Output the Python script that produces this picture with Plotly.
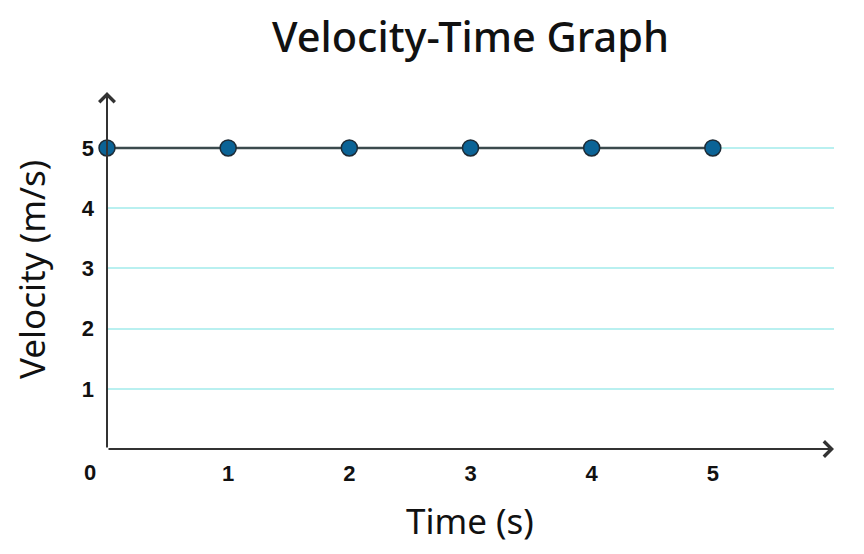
import plotly.graph_objects as go

time_s = [0, 1, 2, 3, 4, 5]
velocity = [5, 5, 5, 5, 5, 5]
x_ticks = [1, 2, 3, 4, 5]
y_ticks = [1, 2, 3, 4, 5]
x_max = 6
y_max = 5.93

# page body has an 8px margin; figure sized to fill the rest of the window
W, H = 856, 546
L, R, T, B = 99, 30, 84, 105
PW, PH = W - L - R, H - T - B


def px_x(x):  # screen x -> paper x
    return (x - 8 - L) / PW


def px_y(y):  # screen y -> paper y
    return 1 - (y - 8 - T) / PH


fig = go.Figure()
fig.add_trace(go.Scatter(
    x=time_s, y=velocity, mode="lines+markers",
    line=dict(color="#3b4a4d", width=2.5),
    marker=dict(size=16, color="#0b6396", line=dict(color="#1d2b36", width=1.5)),
    cliponaxis=False, showlegend=False,
))

tick_font = dict(family="Liberation Sans, Arial", size=22, color="#111111", weight="bold")

fig.update_layout(
    width=W, height=H,
    margin=dict(l=L, r=R, t=T, b=B),
    paper_bgcolor="white", plot_bgcolor="white",
    title=dict(text="Velocity-Time Graph", x=0.5, xref="paper",
               y=1 - (37 - 8) / H, yref="container", yanchor="middle",
               font=dict(family="Noto Sans", size=41.5, color="#111111", weight=500)),
    xaxis=dict(range=[0, x_max], tickvals=x_ticks, showgrid=False, zeroline=False,
               showline=False, ticks="", tickfont=tick_font, ticklabelstandoff=9),
    yaxis=dict(range=[0, y_max], tickvals=y_ticks, showgrid=True, gridcolor="#b9f0f0",
               gridwidth=2, zeroline=False, showline=False, ticks="",
               tickfont=tick_font, ticklabelstandoff=12),
)

axis_color = "#333333"
# x axis arrow
fig.add_annotation(x=x_max, y=0, ax=0, ay=0, xref="x", yref="y", axref="x", ayref="y",
                   text="", showarrow=True, arrowhead=4, arrowsize=1.5, arrowwidth=2,
                   arrowcolor=axis_color, standoff=0)
# y axis arrow
fig.add_annotation(x=0, y=y_max, ax=0, ay=0, xref="x", yref="y", axref="x", ayref="y",
                   text="", showarrow=True, arrowhead=4, arrowsize=1.5, arrowwidth=2,
                   arrowcolor=axis_color, standoff=0)
# origin label
fig.add_annotation(x=0, y=0, xref="x", yref="y", text="0", showarrow=False,
                   xshift=-17, yshift=-23, font=tick_font)
# axis titles
title_font = dict(family="Noto Sans", size=35, color="#111111", weight=400)
fig.add_annotation(x=px_x(31), y=px_y(270), xref="paper", yref="paper",
                   text="Velocity (m/s)", textangle=-90, showarrow=False,
                   xanchor="center", yanchor="middle", font=title_font)
fig.add_annotation(x=px_x(470), y=px_y(520), xref="paper", yref="paper",
                   text="Time (s)", showarrow=False,
                   xanchor="center", yanchor="middle", font=title_font)

fig.write_html("out.html")
